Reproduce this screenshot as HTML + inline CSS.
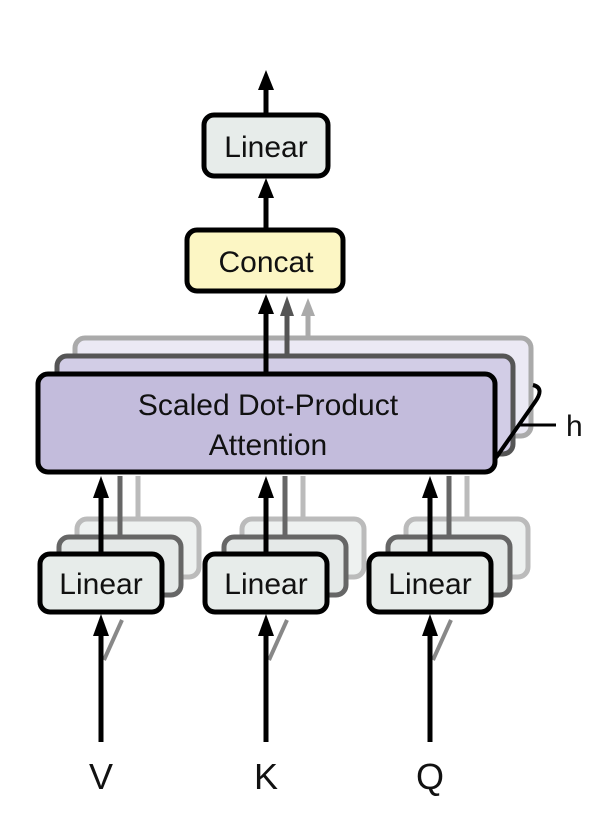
<!DOCTYPE html>
<html><head><meta charset="utf-8"><style>
html,body{margin:0;padding:0;background:#fff;}
svg{display:block;}
text{font-family:"Liberation Sans",sans-serif;fill:#111;}
</style></head><body>
<svg width="610" height="822" viewBox="0 0 610 822" xmlns="http://www.w3.org/2000/svg">
<defs>
<marker id="ab" markerWidth="6" markerHeight="6" refX="3" refY="5" orient="auto" markerUnits="userSpaceOnUse" viewBox="0 0 6 6"><path d="M0,6 L3,0 L6,6 Z" fill="#000"/></marker>
</defs>
<g fill="#000">
</g>
<!-- top arrow -->
<line x1="266" y1="113" x2="266" y2="88" stroke="#000" stroke-width="5"/>
<path d="M258,90 L266,70 L274,90 Z" fill="#000"/>
<!-- top linear -->
<rect x="204" y="115" width="124" height="61" rx="10" fill="#e7ecea" stroke="#000" stroke-width="5"/>
<text x="266" y="157" font-size="30" text-anchor="middle">Linear</text>
<!-- arrow linear<-concat -->
<line x1="266" y1="229" x2="266" y2="196" stroke="#000" stroke-width="5"/>
<path d="M258,198 L266,178 L274,198 Z" fill="#000"/>
<!-- concat -->
<rect x="187" y="230" width="156" height="61" rx="10" fill="#fcf6c4" stroke="#000" stroke-width="5"/>
<text x="266" y="272" font-size="30" text-anchor="middle">Concat</text>

<!-- back attention boxes -->
<rect x="75" y="338" width="456" height="98" rx="10" fill="#ebe9f4" stroke="#aaa" stroke-width="5"/>
<line x1="308" y1="338" x2="308" y2="312" stroke="#aaa" stroke-width="5"/>
<path d="M301,316 L308,298 L315,316 Z" fill="#aaa"/>
<rect x="57" y="356" width="456" height="98" rx="10" fill="#d2cde6" stroke="#555" stroke-width="5"/>
<line x1="287" y1="356" x2="287" y2="312" stroke="#555" stroke-width="5"/>
<path d="M280,316 L287,296 L294,316 Z" fill="#555"/>
<!-- bracket h -->
<path d="M533,385 Q545,388 535,402 L500,452 Q492,466 480,460" fill="none" stroke="#000" stroke-width="4"/>
<line x1="520" y1="425" x2="556" y2="425" stroke="#000" stroke-width="3"/>
<text x="566" y="436" font-size="30">h</text>
<!-- front attention -->
<rect x="38" y="374" width="457" height="98" rx="10" fill="#c3bcdc" stroke="#000" stroke-width="5"/>
<line x1="266" y1="374" x2="266" y2="312" stroke="#000" stroke-width="5"/>
<path d="M258,314 L266,294 L274,314 Z" fill="#000"/>
<text x="268" y="415" font-size="30" text-anchor="middle">Scaled Dot-Product</text>
<text x="268" y="455" font-size="30" text-anchor="middle">Attention</text>

<!-- lower linears -->
<g id="v">
<rect x="77" y="519" width="122" height="58" rx="10" fill="#eef1f0" stroke="#bbb" stroke-width="5"/>
<line x1="138" y1="519" x2="138" y2="476" stroke="#bbb" stroke-width="5"/>
<rect x="59" y="537" width="122" height="58" rx="10" fill="#e5e9e8" stroke="#666" stroke-width="5"/>
<line x1="120" y1="537" x2="120" y2="476" stroke="#666" stroke-width="5"/>
<path d="M104,660 L122,620" stroke="#888" stroke-width="4"/>
<rect x="40" y="554" width="122" height="58" rx="10" fill="#e7ecea" stroke="#000" stroke-width="5"/>
<text x="101" y="594" font-size="30" text-anchor="middle">Linear</text>
<line x1="101" y1="554" x2="101" y2="496" stroke="#000" stroke-width="5"/>
<path d="M93,498 L101,476 L109,498 Z" fill="#000"/>
<line x1="101" y1="742" x2="101" y2="634" stroke="#000" stroke-width="5"/>
<path d="M93,636 L101,614 L109,636 Z" fill="#000"/>
</g>
<use href="#v" x="165"/>
<use href="#v" x="329"/>

<text x="101" y="789" font-size="36" text-anchor="middle">V</text>
<text x="266" y="789" font-size="36" text-anchor="middle">K</text>
<text x="430" y="789" font-size="36" text-anchor="middle">Q</text>
</svg>
</body></html>
